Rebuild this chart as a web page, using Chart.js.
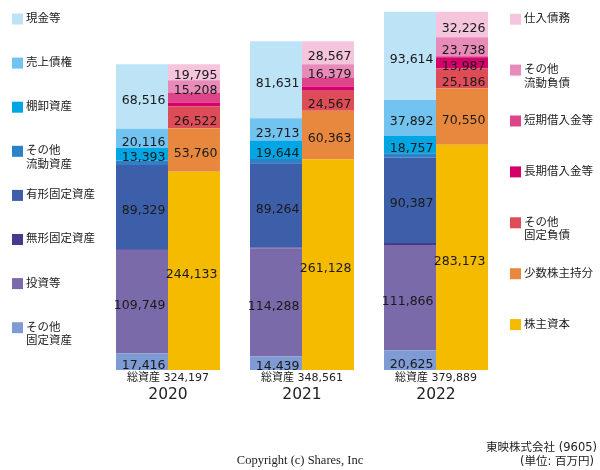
<!DOCTYPE html>
<html>
<head>
<meta charset="utf-8">
<script src="https://cdn.jsdelivr.net/npm/chart.js@4"></script>
<style>
  html, body { margin: 0; padding: 0; background: #ffffff; }
  #wrap { position: relative; width: 600px; height: 470px; }
</style>
</head>
<body>
<div id="wrap"><canvas id="bsChart"></canvas></div>
<script>
// 年度と総資産
const years = ['2020', '2021', '2022'];
const totalAssets = [324197, 348561, 379889];

// 資産の部 (百万円)
const cash = [68516, 81631, 93614];
const receivables = [20116, 23713, 37892];
const inventory = [13393, 19644, 18757];
const otherCurrentAssets = [4900, 4500, 4500];
const tangibleAssets = [89329, 89264, 90387];
const intangibleAssets = [778, 1082, 2248];
const investments = [109749, 114288, 111866];
const otherFixedAssets = [17416, 14439, 20625];

// 負債・純資産の部 (百万円)
const payables = [19795, 28567, 32226];
const otherCurrentLiab = [15208, 16379, 23738];
const shortDebt = [12300, 11200, 1500];
const longDebt = [5000, 5400, 13987];
const otherFixedLiab = [26522, 24567, 25186];
const minorityInterest = [53760, 60363, 70550];
const shareholdersEquity = [244133, 261128, 283173];

const FONT = '"DejaVu Sans", "Noto Sans CJK JP", sans-serif';
const LABEL_MIN = 13000;

// 資産側 (下から順)
const assetSeries = [
    { label: 'その他\n固定資産', data: otherFixedAssets, color: '#7e9bd3' },
    { label: '投資等', data: investments, color: '#7b6aaa' },
    { label: '無形固定資産', data: intangibleAssets, color: '#463a8c' },
    { label: '有形固定資産', data: tangibleAssets, color: '#3d5ea8' },
    { label: 'その他\n流動資産', data: otherCurrentAssets, color: '#2a82c9' },
    { label: '棚卸資産', data: inventory, color: '#00a5e3' },
    { label: '売上債権', data: receivables, color: '#72c3f0' },
    { label: '現金等', data: cash, color: '#bde3f7' }
];

// 負債側 (下から順)
const liabSeries = [
    { label: '株主資本', data: shareholdersEquity, color: '#f4bb00' },
    { label: '少数株主持分', data: minorityInterest, color: '#e8883e' },
    { label: 'その他\n固定負債', data: otherFixedLiab, color: '#de4d57' },
    { label: '長期借入金等', data: longDebt, color: '#d5006a' },
    { label: '短期借入金等', data: shortDebt, color: '#dc4589' },
    { label: 'その他\n流動負債', data: otherCurrentLiab, color: '#e98bb8' },
    { label: '仕入債務', data: payables, color: '#f4c5dd' }
];

// 右側の棒は総資産の高さに揃える
const liabSums = years.map((_, i) => liabSeries.reduce((s, d) => s + d.data[i], 0));
const liabScale = years.map((_, i) => totalAssets[i] / liabSums[i]);

const datasets = [];
assetSeries.forEach(s => {
    datasets.push({
        label: s.label, data: s.data, raw: s.data,
        backgroundColor: s.color, stack: 'asset', borderWidth: 0
    });
});
liabSeries.forEach(s => {
    datasets.push({
        label: s.label, data: s.data.map((v, i) => v * liabScale[i]), raw: s.data,
        backgroundColor: s.color, stack: 'liab', borderWidth: 0
    });
});

const fmt = v => v.toLocaleString('en-US');

// 数値ラベル・凡例・注記を描画
const decorations = {
    id: 'decorations',
    afterDatasetsDraw(chart) {
        const ctx = chart.ctx;
        const area = chart.chartArea;

        // 棒の中の数値 (棒の範囲で切る)
        ctx.save();
        ctx.beginPath();
        ctx.rect(area.left, area.top, area.right - area.left, area.bottom - area.top);
        ctx.clip();
        ctx.fillStyle = '#1a1a1a';
        ctx.font = '12.5px ' + FONT;
        ctx.textAlign = 'right';
        ctx.textBaseline = 'middle';
        chart.data.datasets.forEach((ds, di) => {
            const meta = chart.getDatasetMeta(di);
            meta.data.forEach((bar, i) => {
                const v = ds.raw[i];
                if (v < LABEL_MIN) return;
                const p = bar.getProps(['x', 'y', 'base', 'width'], true);
                ctx.fillText(fmt(v), p.x + p.width / 2 - 2.5, (p.y + p.base) / 2 + 4);
            });
        });
        ctx.restore();

        ctx.save();
        ctx.textBaseline = 'middle';
        // 総資産と年度
        const xs = chart.scales.x;
        ctx.textAlign = 'center';
        years.forEach((y, i) => {
            const cx = xs.getPixelForValue(i);
            ctx.fillStyle = '#222';
            ctx.font = '11px ' + FONT;
            ctx.fillText('総資産 ' + fmt(totalAssets[i]), cx, 378);
            ctx.font = '15.5px ' + FONT;
            ctx.fillText(y, cx, 395);
        });

        // 凡例
        const drawLegend = (series, boxX, startY, step) => {
            ctx.font = '11.5px ' + FONT;
            ctx.textAlign = 'left';
            series.slice().reverse().forEach((s, k) => {
                const cy = startY + k * step;
                ctx.fillStyle = s.color;
                ctx.fillRect(boxX, cy - 5, 11, 11);
                ctx.fillStyle = '#222';
                s.label.split('\n').forEach((line, j) => {
                    ctx.fillText(line, boxX + 14, cy + 0.5 + j * 13.5);
                });
            });
        };
        drawLegend(assetSeries, 12, 18.5, 44.1);
        drawLegend(liabSeries, 510, 18.7, 50.9);

        // 会社名と著作権
        ctx.fillStyle = '#222';
        ctx.font = '11.5px ' + FONT;
        ctx.textAlign = 'right';
        ctx.fillText('東映株式会社 (9605)', 597, 448);
        ctx.fillText('(単位: 百万円)', 594, 462);
        ctx.textAlign = 'center';
        ctx.font = '12.5px "Liberation Serif", "DejaVu Serif", serif';
        ctx.fillText('Copyright (c) Shares, Inc', 300, 461);
        ctx.restore();
    }
};

new Chart(document.getElementById('bsChart'), {
    type: 'bar',
    data: { labels: years, datasets: datasets },
    options: {
        responsive: true,
        maintainAspectRatio: false,
        animation: false,
        layout: { padding: { left: 101, right: 97, top: 11.5, bottom: 100 } },
        datasets: { bar: { categoryPercentage: 0.776, barPercentage: 1 } },
        plugins: {
            legend: { display: false },
            tooltip: { enabled: false }
        },
        scales: {
            x: { stacked: true, display: false },
            y: { stacked: true, display: false, min: 0, max: 380000 }
        }
    },
    plugins: [decorations]
});
</script>
</body>
</html>
